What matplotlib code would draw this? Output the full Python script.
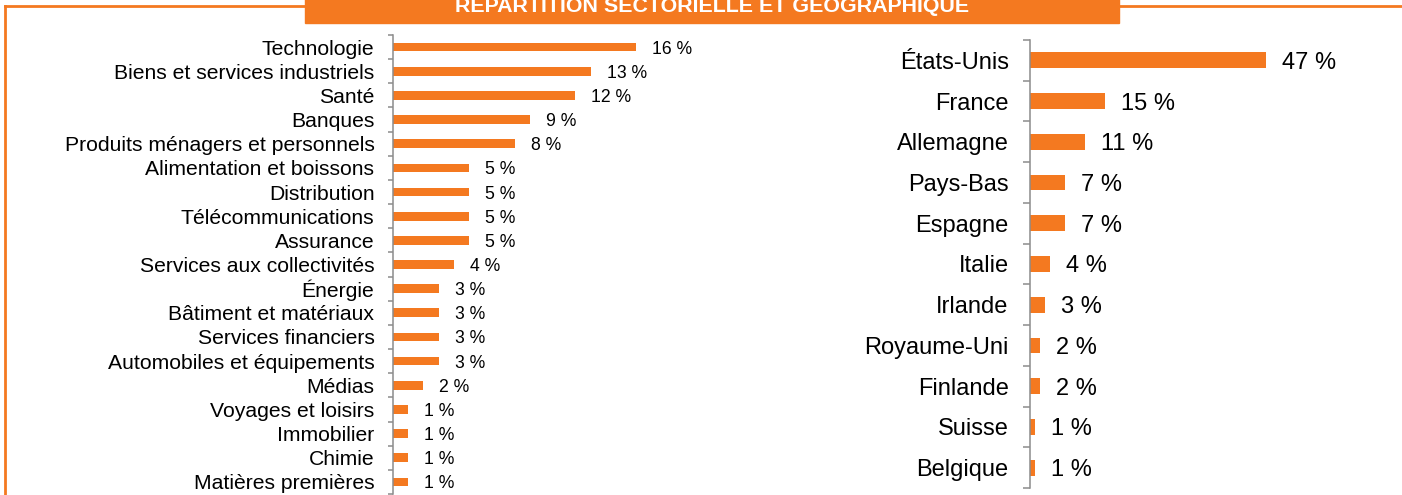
import matplotlib
matplotlib.use("Agg")
import matplotlib.pyplot as plt
from matplotlib.patches import Rectangle
from matplotlib.lines import Line2D

plt.rcParams['font.family'] = ['Liberation Sans', 'DejaVu Sans']

title = "RÉPARTITION SECTORIELLE ET GÉOGRAPHIQUE"

sectors = ["Technologie", "Biens et services industriels", "Santé", "Banques",
           "Produits ménagers et personnels", "Alimentation et boissons", "Distribution",
           "Télécommunications", "Assurance", "Services aux collectivités", "Énergie",
           "Bâtiment et matériaux", "Services financiers", "Automobiles et équipements",
           "Médias", "Voyages et loisirs", "Immobilier", "Chimie", "Matières premières"]
sector_values = [16, 13, 12, 9, 8, 5, 5, 5, 5, 4, 3, 3, 3, 3, 2, 1, 1, 1, 1]

countries = ["États-Unis", "France", "Allemagne", "Pays-Bas", "Espagne", "Italie",
             "Irlande", "Royaume-Uni", "Finlande", "Suisse", "Belgique"]
country_values = [47, 15, 11, 7, 7, 4, 3, 2, 2, 1, 1]

ORANGE = '#F47920'
GRAY = '#8c8c8c'
W, H = 1402, 495
fig = plt.figure(figsize=(W / 100, H / 100), dpi=100)


def setup(ax, cats, vals, height, fs_cat, fs_val, ticklen, pad, off_px, px_per_unit):
    n = len(cats)
    pos = list(range(n))
    ax.barh(pos, vals, height=height, color=ORANGE, edgecolor='none')
    ax.set_ylim(n - 0.5, -0.5)
    ax.set_yticks(pos)
    ax.set_yticklabels(cats, fontsize=fs_cat, color='black')
    ax.set_yticks([i - 0.5 for i in range(n + 1)], minor=True)
    ax.tick_params(axis='y', which='major', length=0, pad=pad)
    ax.tick_params(axis='y', which='minor', length=ticklen, width=1.1, color=GRAY)
    ax.set_xticks([])
    for s in ['top', 'right', 'bottom']:
        ax.spines[s].set_visible(False)
    ax.spines['left'].set_color(GRAY)
    ax.spines['left'].set_linewidth(1.1)
    for p, v in zip(pos, vals):
        ax.text(v + off_px / px_per_unit, p, f"{v} %", va='center_baseline', ha='left',
                fontsize=fs_val, color='black')


# left axes: spine at x=393, 15.2 px per %, y from 35 to 494
axL = fig.add_axes([393 / W, (H - 494) / H, (15.2 * 20) / W, 459 / H])
axL.set_xlim(0, 20)
setup(axL, sectors, sector_values, 0.36, 15.2, 12.7, 3.6, 13.4, 16, 15.2)

# right axes: spine at x=1030, 5.02 px per %, y from 40 to 488
axR = fig.add_axes([1030 / W, (H - 488) / H, (5.02 * 60) / W, 448 / H])
axR.set_xlim(0, 60)
setup(axR, countries, country_values, 0.39, 17, 17, 5, 15.3, 16, 5.02)

# frame lines
fig.add_artist(Line2D([5.3 / W, 5.3 / W], [0, 1 - 5.5 / H], color=ORANGE, lw=2, transform=fig.transFigure))
fig.add_artist(Line2D([5.3 / W, 1], [1 - 5.5 / H, 1 - 5.5 / H], color=ORANGE, lw=2, transform=fig.transFigure))
# banner
fig.add_artist(Rectangle((305 / W, 1 - 23 / H), 814 / W, 23 / H + 0.01, color=ORANGE,
                         transform=fig.transFigure, zorder=5))
fig.text(712 / W, 1 - 11.5 / H, title, ha='center', va='baseline', color='white',
         fontsize=15.4, fontweight='bold', zorder=6)

fig.savefig("out.png", dpi=100)
